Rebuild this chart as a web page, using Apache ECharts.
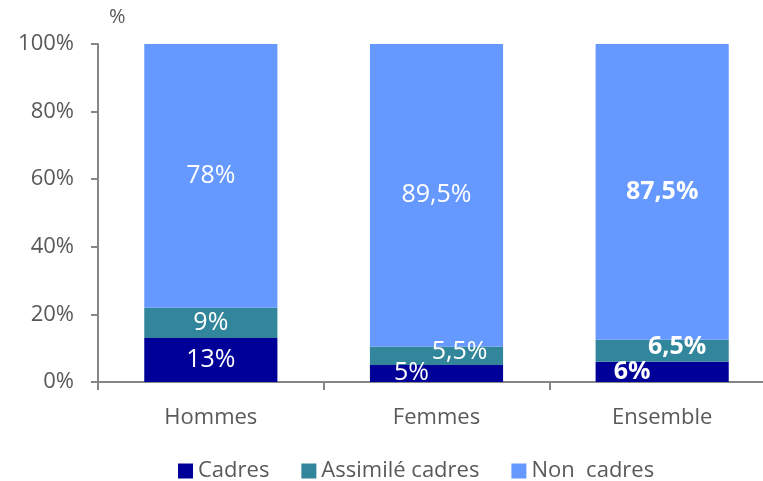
<!DOCTYPE html>
<html>
<head>
<meta charset="utf-8">
<script src="https://cdn.jsdelivr.net/npm/echarts@6/dist/echarts.min.js"></script>
<style>
  * { margin: 0; padding: 0; }
  html, body { width: 763px; height: 481px; background: #fff; overflow: hidden; }
  /* l'axe des x dépasse le bord droit dans l'original */
  #chart { width: 800px; height: 481px; }
</style>
</head>
<body>
<div id="chart"></div>
<script>
const categories = ['Hommes', 'Femmes', 'Ensemble']
const cadres = [13, 5, 6]
const assimiles = [9, 5.5, 6.5]
const nonCadres = [78, 89.5, 87.5]
const seriesNames = ['Cadres', 'Assimilé cadres', 'Non  cadres']
const yTicks = [0, 20, 40, 60, 80, 100]

const font = 'Open Sans'
const grey = '#595959'

// petits segments : étiquettes décalées comme sur l'original
const labelOffsets = {
  cadres: [null, [-25, -1], [-30, 0]],
  assimiles: [null, [23, -4], [15, -4]]
}

const fmt = v => String(v).replace('.', ',') + '%'

const makeData = (values, offsets) => values.map((v, i) => {
  const label = {}
  if (offsets && offsets[i]) label.offset = offsets[i]
  if (i === 2) label.fontWeight = 'bold'
  return { value: v, label }
})

const baseLabel = {
  show: true,
  position: 'inside',
  color: '#fff',
  fontFamily: font,
  fontSize: 25,
  formatter: p => fmt(p.value)
}

const chart = echarts.init(document.getElementById('chart'))
chart.setOption({
  animation: false,
  textStyle: { fontFamily: font },
  grid: { left: 98, top: 44, width: 677, height: 338 },
  legend: {
    left: 173,
    top: 455,
    itemWidth: 15,
    itemHeight: 15,
    itemGap: 32,
    icon: 'rect',
    textStyle: { color: grey, fontSize: 22, fontFamily: font },
    data: seriesNames
  },
  graphic: [{
    type: 'text',
    left: 109,
    top: 7,
    style: { text: '%', fontSize: 20, fill: grey, fontFamily: font }
  }],
  xAxis: {
    type: 'category',
    data: categories,
    boundaryGap: true,
    axisLine: { lineStyle: { color: '#868686', width: 2 } },
    axisTick: { show: true, length: 8, lineStyle: { color: '#868686', width: 2 } },
    axisLabel: { color: grey, fontSize: 22, margin: 25, fontFamily: font }
  },
  yAxis: {
    type: 'value',
    min: 0,
    max: 100,
    interval: 20,
    splitLine: { show: false },
    axisLine: { show: true, lineStyle: { color: '#868686', width: 2 } },
    axisTick: { show: true, length: 7, lineStyle: { color: '#868686', width: 2 } },
    axisLabel: {
      color: grey, fontSize: 22, margin: 24, fontFamily: font,
      formatter: v => yTicks.includes(v) ? v + '%' : ''
    }
  },
  series: [
    {
      name: seriesNames[0], type: 'bar', stack: 'total', barWidth: '59%',
      itemStyle: { color: '#000099' },
      label: baseLabel,
      data: makeData(cadres, labelOffsets.cadres)
    },
    {
      name: seriesNames[1], type: 'bar', stack: 'total',
      itemStyle: { color: '#31869B' },
      label: baseLabel,
      data: makeData(assimiles, labelOffsets.assimiles)
    },
    {
      name: seriesNames[2], type: 'bar', stack: 'total',
      itemStyle: { color: '#6699FF' },
      label: baseLabel,
      data: makeData(nonCadres)
    }
  ]
})
</script>
</body>
</html>
